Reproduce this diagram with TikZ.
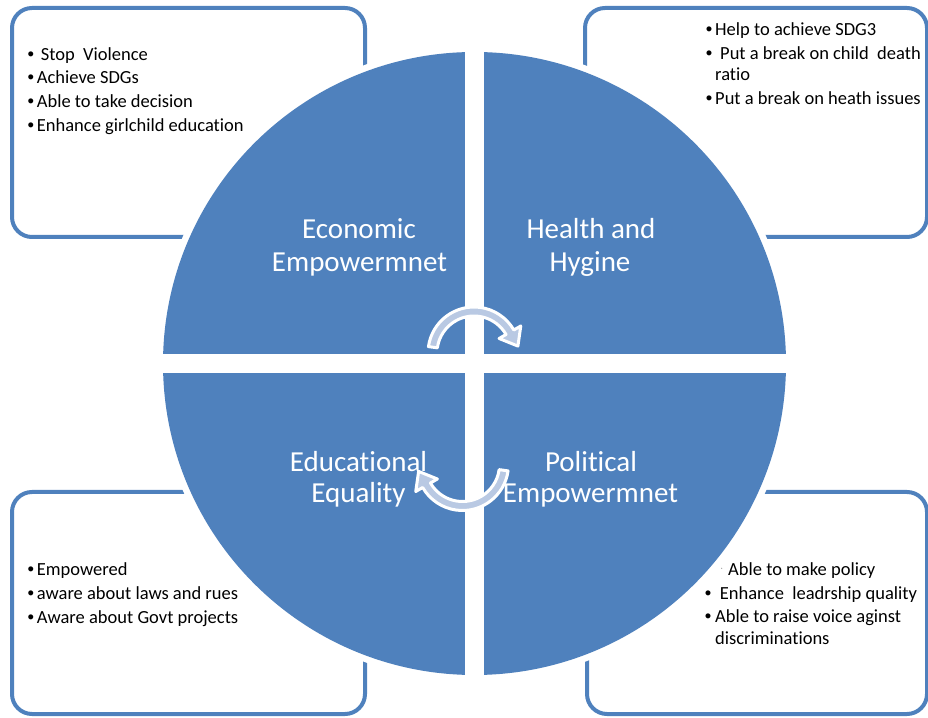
\documentclass[tikz,border=0pt]{standalone}
\usepackage{fontspec}
\setmainfont[Ligatures=NoCommon]{Carlito}
\newfontfamily\bulfont{Liberation Sans}
\definecolor{accent}{RGB}{79,129,189}
\definecolor{arrowfill}{RGB}{185,201,227}
\begin{document}
\begin{tikzpicture}[x=1pt,y=1pt,
  box/.style={draw=accent, line width=4pt, rounded corners=20pt},
  lbl/.style={text=white, font=\fontsize{29}{34}\selectfont, anchor=base, inner sep=0pt},
  itm/.style={font=\fontsize{18.5}{22}\selectfont, anchor=base west, inner sep=0pt},
  bul/.style={font=\bulfont\fontsize{18.5}{22}\selectfont, anchor=base, inner sep=0pt},
  cyc/.style={fill=arrowfill, draw=white, line width=3pt, line join=round}]
\useasboundingbox (0,0) rectangle (928,717);

% boxes
\draw[box] (12,480) rectangle (365,709);
\draw[box] (585,480) rectangle (927,709);
\draw[box] (12,3) rectangle (365,225);
\draw[box] (587,3) rectangle (927,225);

% circle
\fill[white] (474.5,353.5) circle (318);
\fill[accent] (474.5,353.5) circle (311.5);
\fill[white] (465,40) rectangle (484,667);
\fill[white] (160,344) rectangle (790,363);

% quadrant labels
\node[lbl] (eco1) at (359,478) {Economic};
\node[lbl] (eco2) at (359.5,445) {Empowermnet};
\node[lbl] (hea1) at (591,478) {Health and};
\node[lbl] (hea2) at (590,445) {Hygine};
\node[lbl] (edu1) at (358.5,245) {Educational};
\node[lbl] (edu2) at (358.5,214) {Equality};
\node[lbl] (pol1) at (591,245) {Political};
\node[lbl] (pol2) at (590.5,214) {Empowermnet};

% cycle arrows
\begin{scope}[shift={(474,364)}]
\path[cyc] (172:46) arc[start angle=172, end angle=30, radius=46]
  -- (30:54) -- (43.9,6.9) -- (30:29) -- (30:37)
  arc[start angle=30, end angle=172, radius=37] -- cycle;
\end{scope}
\begin{scope}[shift={(462.5,252.5)}]
\path[cyc] (352:46) arc[start angle=352, end angle=210, radius=46]
  -- (210:54) -- (-43.9,-6.9) -- (210:29) -- (210:37)
  arc[start angle=210, end angle=352, radius=37] -- cycle;
\end{scope}

% top-left list
\node[bul] (tlb1) at (30.8,656.3) {•};
\node[itm] (tl1) at (40.7,656.3) {Stop\ \ Violence};
\node[bul] (tlb2) at (30.8,633) {•};
\node[itm] (tl2) at (36.7,633) {Achieve SDGs};
\node[bul] (tlb3) at (30.8,609.3) {•};
\node[itm] (tl3) at (36.7,609.3) {Able to take decision};
\node[bul] (tlb4) at (30.8,585.3) {•};
\node[itm] (tl4) at (36.7,585.3) {Enhance girlchild education};

% top-right list
\node[bul] (trb1) at (709.2,681) {•};
\node[itm] (tr1) at (715,681) {Help to achieve SDG3};
\node[bul] (trb2) at (709.2,657) {•};
\node[itm] (tr2) at (720,657) {Put a break on child\ \ death};
\node[itm] (tr3) at (715,636) {ratio};
\node[bul] (trb4) at (709.2,612) {•};
\node[itm] (tr4) at (715,612) {Put a break on heath issues};

% bottom-left list
\node[bul] (blb1) at (30.8,141) {•};
\node[itm] (bl1) at (36.7,141) {Empowered};
\node[bul] (blb2) at (30.8,117) {•};
\node[itm] (bl2) at (36.7,117) {aware about laws and rues};
\node[bul] (blb3) at (30.8,93) {•};
\node[itm] (bl3) at (36.7,93) {Aware about Govt projects};

% bottom-right list
\fill[black!35] (721.7,148.7) circle (0.7);
\node[itm] (br1) at (728,141) {Able to make policy};
\node[bul] (brb2) at (708,117) {•};
\node[itm] (br2) at (719.7,117) {Enhance\ \ leadrship quality};
\node[bul] (brb3) at (708,94) {•};
\node[itm] (br3) at (715,94) {Able to raise voice aginst};
\node[itm] (br4) at (715,73) {discriminations};
\end{tikzpicture}
\end{document}
